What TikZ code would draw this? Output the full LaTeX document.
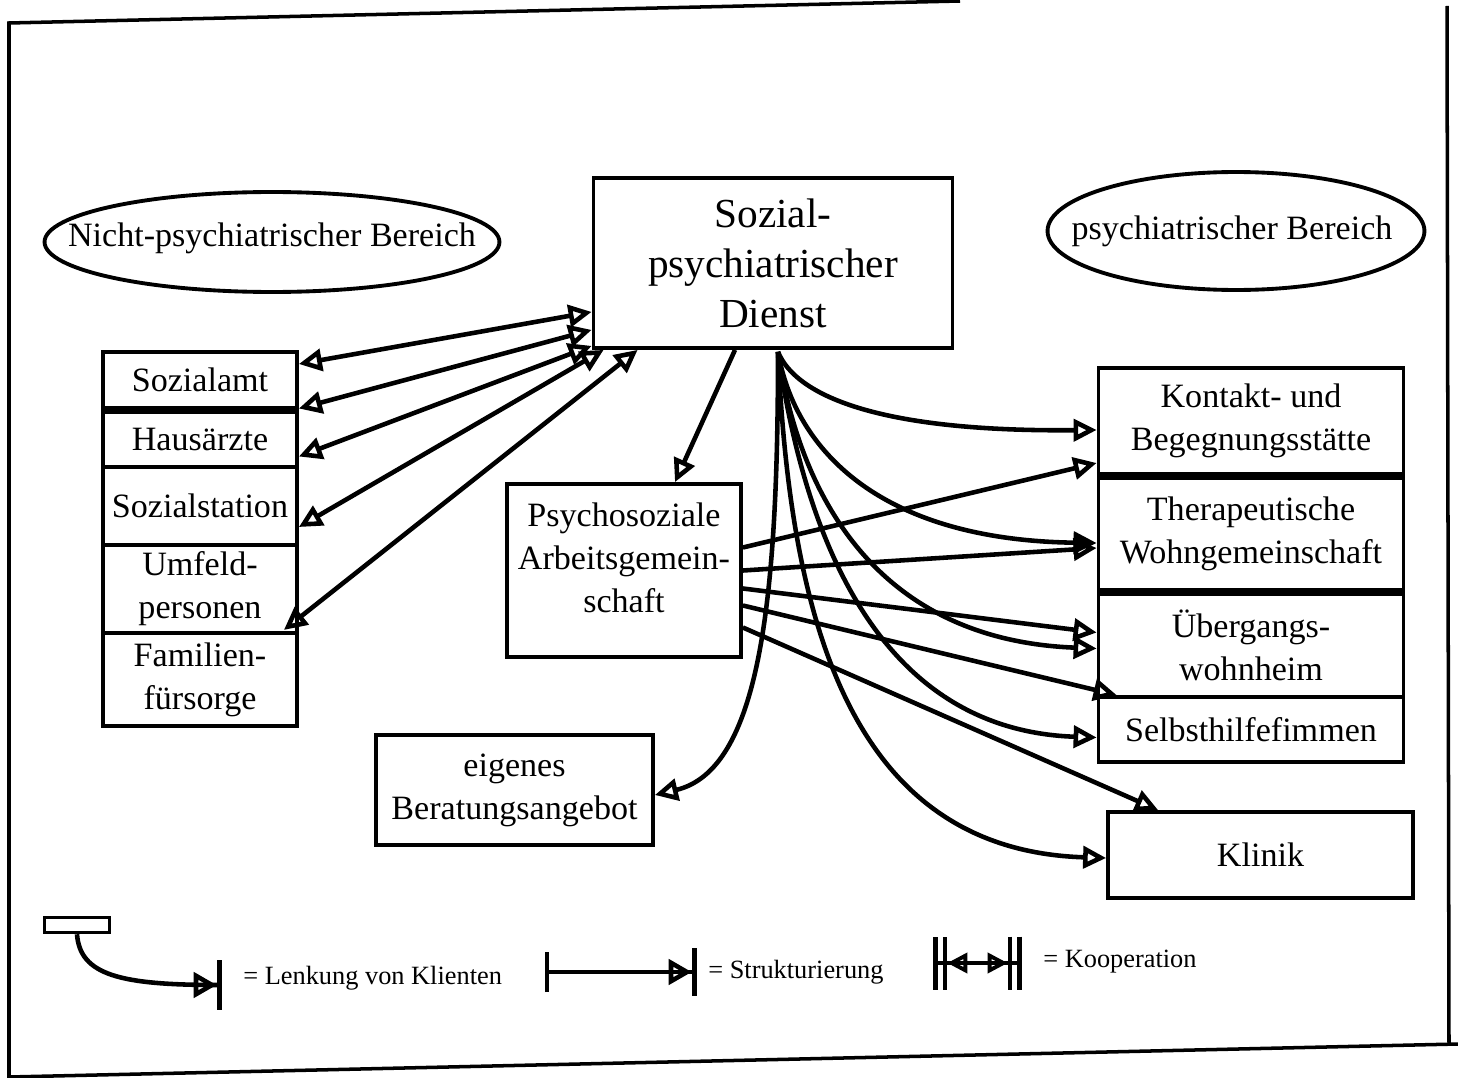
\documentclass[tikz,border=0pt]{standalone}
\usepackage{fontspec}
\setmainfont{Liberation Serif}
\usetikzlibrary{arrows.meta,calc,shapes.geometric}
\begin{document}
\begin{tikzpicture}[x=0.02cm,y=-0.02cm,
  bfont/.style={font=\fontsize{19.4}{24.5}\selectfont},
  box/.style={draw, line width=2.2pt, align=center, inner sep=0pt, bfont},
  ell/.style={draw, ellipse, line width=2.2pt, inner sep=0pt},
  txt/.style={align=center, inner sep=0pt, bfont},
  con/.style={line width=2.6pt, line join=miter},
  lenk/.style={con, -{Triangle[open,length=0.46cm,width=0.44cm]}},
  coop/.style={con, {Triangle[open,length=0.46cm,width=0.44cm]}-{Triangle[open,length=0.46cm,width=0.44cm]}},
  legtxt/.style={anchor=west, inner sep=0pt, font=\fontsize{15}{17}\selectfont}
]
\useasboundingbox (0,0) rectangle (1458,1078);
% frame
\draw[line width=2pt] (960,1) -- (9,23) -- (9,1077) -- (1458,1044);
\draw[line width=2pt] (1447,6) -- (1449,1045);

% ellipses
\node[ell, minimum width=9.1cm, minimum height=2cm] (nb) at (272,242) {};
\node[txt] (nbtxt) at (272,238) {Nicht-psychiatrischer Bereich};
\node[ell, minimum width=7.54cm, minimum height=2.36cm] (pb) at (1236,231) {};
\node[txt] (pbtxt) at (1232,231) {psychiatrischer Bereich};

% central
\node[box, minimum width=7.18cm, minimum height=3.4cm, font=\fontsize{23.5}{28.5}\selectfont] (spd) at (773,263) {Sozial-\\psychiatrischer\\Dienst};

% left stack
\node[box, minimum width=3.88cm, minimum height=1.12cm] (sozialamt) at (200,380) {Sozialamt};
\node[box, minimum width=3.88cm, minimum height=1.1cm] (hausaerzte) at (200,439.5) {Hausärzte};
\node[box, minimum width=3.88cm, minimum height=1.56cm] (sozialstation) at (200,506) {Sozialstation};
\node[box, minimum width=3.88cm, minimum height=1.76cm] (umfeld) at (200,589) {Umfeld-\\personen};
\node[box, minimum width=3.88cm, minimum height=1.86cm] (familien) at (200,679.5) {Familien-\\fürsorge};

% middle
\node[box, minimum width=4.68cm, minimum height=3.46cm] (psag) at (624,570.5) {};
\node[txt] (psagtxt) at (624,558) {Psychosoziale\\Arbeitsgemein-\\schaft};
\node[box, minimum width=5.54cm, minimum height=2.2cm] (eigen) at (514.5,790) {eigenes\\Beratungsangebot};

% right stack
\node[box, minimum width=6.1cm, minimum height=2.12cm] (kontakt) at (1251,421) {Kontakt- und\\Begegnungsstätte};
\node[box, minimum width=6.1cm, minimum height=2.24cm] (therap) at (1251,534) {Therapeutische\\Wohngemeinschaft};
\node[box, minimum width=6.1cm, minimum height=2.06cm] (uebergang) at (1251,645.5) {Übergangs-\\wohnheim};
\node[box, minimum width=6.1cm, minimum height=1.3cm] (selbst) at (1251,729.5) {Selbsthilfefimmen};
\node[box, minimum width=6.1cm, minimum height=1.72cm] (klinik) at (1260.5,855) {Klinik};

% cooperation arrows (left)
\draw[coop] ($(sozialamt.east)+(0,-16)$) -- ($(spd.south west)+(0,-38)$);
\draw[coop] ($(hausaerzte.east)+(0,-31)$) -- ($(spd.south west)+(0,-20)$);
\draw[coop] ($(hausaerzte.east)+(0,17)$) -- ($(spd.south west)+(0,-4)$);
\draw[coop] ($(sozialstation.east)+(0,21)$) -- ($(spd.south west)+(12,0)$);
\draw[coop] ($(umfeld.south east)+(-15,-5)$) -- ($(spd.south west)+(46,0)$);

% structuring arrow
\draw[lenk] ($(spd.south)+(-38,0)$) -- ($(psag.north)+(51,0)$);

% Lenkung curves from SpD
\coordinate (o) at ($(spd.south)+(5,2)$);
\draw[lenk] (o) .. controls (797,398) and (885,432) .. ($(kontakt.west)+(0,9)$);
\draw[con, -{Triangle[length=0.46cm,width=0.44cm]}] (o) .. controls (795,450) and (880,540) .. ($(therap.west)+(0,9)$);
\draw[lenk] (o) .. controls (800,500) and (880,640) .. ($(uebergang.west)+(0,3)$);
\draw[lenk] (o) .. controls (805,540) and (880,730) .. ($(selbst.west)+(0,8)$);
\draw[lenk] (o) .. controls (790,620) and (850,850) .. ($(klinik.west)+(0,3)$);
\draw[lenk] (o) .. controls (778,600) and (760,770) .. ($(eigen.east)+(0,5)$);

% arrows from PSAG
\draw[lenk] ($(psag.east)+(0,-23)$) -- ($(kontakt.west)+(0,42)$);
\draw[lenk] (psag.east) -- ($(therap.west)+(0,14)$);
\draw[lenk] ($(psag.east)+(0,18)$) -- ($(uebergang.west)+(0,-13)$);
\draw[lenk] ($(psag.east)+(0,35)$) -- ($(selbst.north west)+(20,0)$);
\draw[lenk] ($(psag.east)+(0,57)$) -- ($(klinik.north west)+(52,0)$);

% legend
\node[draw, line width=2pt, minimum width=1.3cm, minimum height=0.3cm, inner sep=0pt] (legsrc) at (77,925) {};
\coordinate (legA) at (222,985);
\draw[con, -{Triangle[open,length=0.46cm,width=0.5cm] Bar[width=1cm,line width=3pt]}] (legsrc.south) .. controls (80,975) and (120,985) .. (legA);
\node[legtxt] (leg1) at (243,978) {= Lenkung von Klienten};

\coordinate (legB1) at (545,972);
\coordinate (legB2) at (697,972);
\draw[con, {Bar[width=0.8cm,line width=2.5pt]}-{Triangle[open,length=0.46cm,width=0.5cm] Bar[width=0.96cm,line width=3pt]}] (legB1) -- (legB2);
\node[legtxt] (leg2) at (708,972) {= Strukturierung};

\coordinate (legC1) at (928,963);
\coordinate (legC2) at (1027,963);
\draw[con, line width=2.2pt, {Bar[width=1.06cm,line width=2.5pt,sep=3pt]Bar[width=1.06cm,line width=2.5pt,sep=3pt]Triangle[open,length=0.4cm,width=0.4cm]}-{Triangle[open,length=0.4cm,width=0.4cm]Bar[width=1.06cm,line width=2.5pt,sep=3pt]Bar[width=1.06cm,line width=2.5pt,sep=3pt]}] (legC1) -- (legC2);
\node[legtxt] (leg3) at (1043,962) {= Kooperation};
\end{tikzpicture}
\end{document}
